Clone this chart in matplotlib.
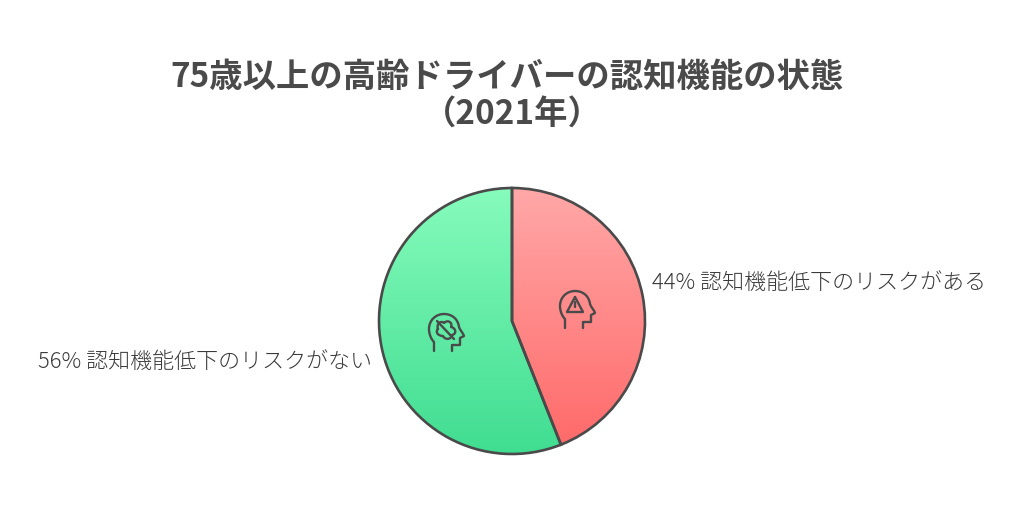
import numpy as np
import matplotlib
matplotlib.use("Agg")
import matplotlib.pyplot as plt
from matplotlib.colors import LinearSegmentedColormap
from matplotlib.path import Path
from matplotlib.patches import PathPatch

plt.rcParams['font.family'] = ['Noto Sans CJK JP', 'DejaVu Sans']

# data
title_lines = ["75歳以上の高齢ドライバーの認知機能の状態", "（2021年）"]
labels = ["44% 認知機能低下のリスクがある", "56% 認知機能低下のリスクがない"]
values = [44, 56]
top_colors = ["#FFA8A8", "#86FBBC"]
bottom_colors = ["#FF6868", "#40DD91"]
dark = "#4A4A4A"

W, H = 1024, 520
cx, cy, r = 512, H - 321, 133

fig = plt.figure(figsize=(W / 100, H / 100), dpi=100)
ax = fig.add_axes([0, 0, 1, 1])

wedges, _ = ax.pie(values, startangle=90, counterclock=False, center=(cx, cy), radius=r,
                   wedgeprops=dict(facecolor="none", edgecolor=dark, linewidth=1.9, zorder=3))

# vertical gradient fill, clipped to each wedge
grad = np.linspace(0, 1, 256).reshape(-1, 1)
for w, c1, c2 in zip(wedges, top_colors, bottom_colors):
    cmap = LinearSegmentedColormap.from_list("g", [c1, c2])
    im = ax.imshow(grad, cmap=cmap, extent=[cx - r, cx + r, cy - r, cy + r],
                   origin="upper", aspect="auto", zorder=2)
    im.set_clip_path(w)

ax.set_xlim(0, W)
ax.set_ylim(0, H)
ax.set_aspect("auto")
ax.axis("off")

M, L, C = Path.MOVETO, Path.LINETO, Path.CURVE4


def stroke(ox, oy, verts, codes=None):
    # verts are pixels from the icon origin, y going down
    pts = [(ox + x, H - (oy + y)) for x, y in verts]
    ax.add_patch(PathPatch(Path(pts, codes), facecolor="none", edgecolor=dark, lw=1.7,
                           capstyle="round", joinstyle="round", zorder=4))


def head(ox, oy):
    verts = [(4, 35), (4, 26),
             (1, 23), (-1, 18), (-1, 13),
             (-1, 4), (6, -2), (14, -2),
             (22, -2), (28, 3), (29, 11),
             (30, 14), (33, 17), (34, 20),
             (30, 22), (30, 29), (22, 29), (22, 35)]
    codes = [M, L, C, C, C, C, C, C, C, C, C, C, C, C, L, L, L, L]
    stroke(ox, oy, verts, codes)


# warning head
ox, oy = 561, 293
head(ox, oy)
stroke(ox, oy, [(14, 4), (6, 19), (22, 19), (14, 4)])
stroke(ox, oy, [(14, 9), (14, 13.5)])
stroke(ox, oy, [(14, 16), (14, 16.3)])

# brain head with strike
ox, oy = 430, 316
head(ox, oy)
stroke(ox, oy, [(8, 13),
                (6, 8), (11, 4), (14, 7),
                (18, 3), (23, 7), (21, 11),
                (26, 12), (27, 18), (22, 19),
                (21, 24), (15, 24), (13, 20),
                (8, 20), (5, 16), (8, 13)],
       [M, C, C, C, C, C, C, C, C, C, C, C, C, C, C, C])
stroke(ox, oy, [(7, 5), (24, 23)])

ax.text(507, H - 77, title_lines[0], ha="center", va="center", fontsize=24,
        fontweight="bold", color=dark)
ax.text(512, H - 115, title_lines[1], ha="center", va="center", fontsize=24,
        fontweight="bold", color=dark)
ax.text(652, H - 283, labels[0], ha="left", va="center", fontsize=15.8, color="#3A3A3A", fontweight="light")
ax.text(372, H - 362, labels[1], ha="right", va="center", fontsize=15.8, color="#3A3A3A", fontweight="light")

fig.savefig("out.png", dpi=100, facecolor="white")
